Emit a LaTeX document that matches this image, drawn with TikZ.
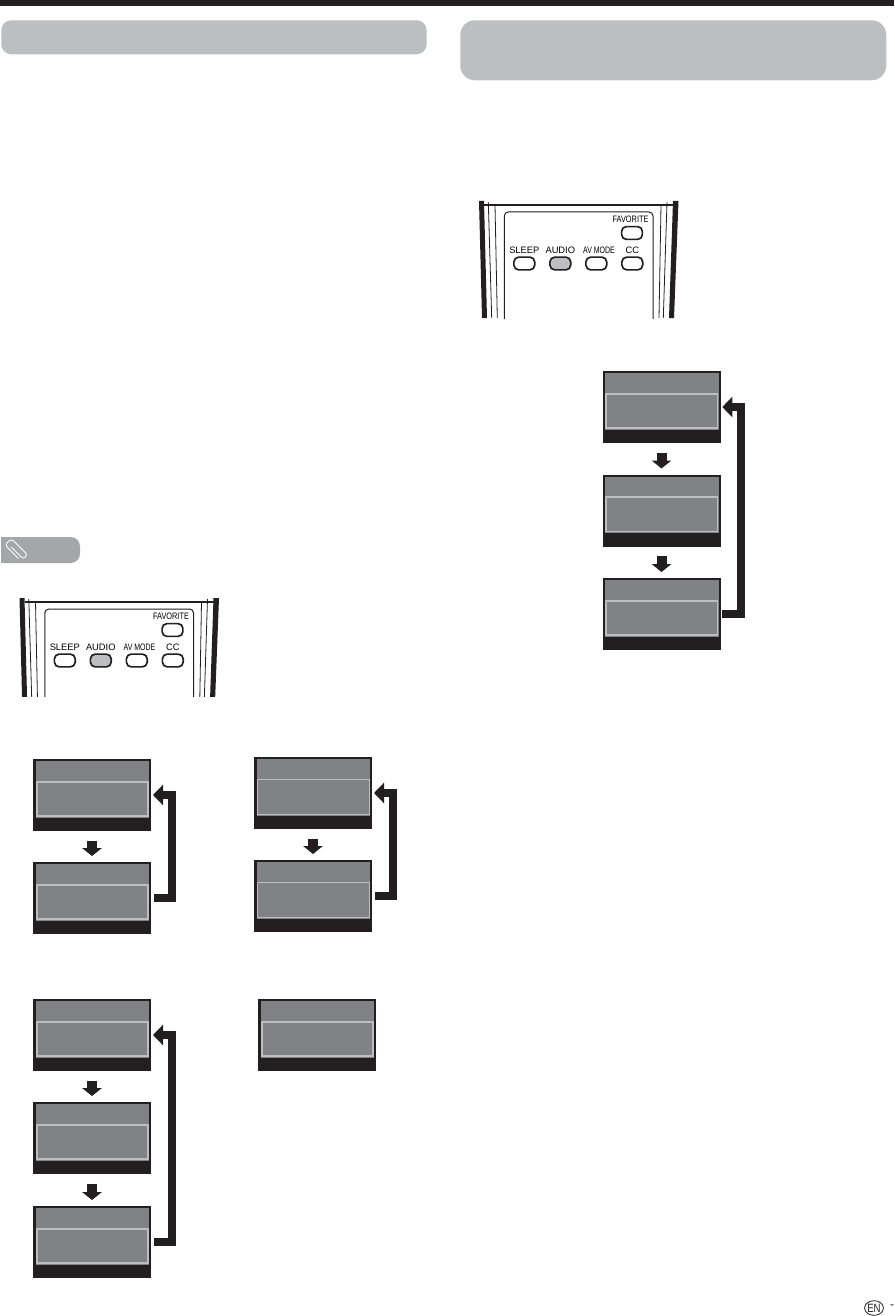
\documentclass[tikz,border=0pt]{standalone}
\usepackage{fontspec}
\setmainfont{Liberation Sans}
\usetikzlibrary{arrows.meta,calc,shapes.geometric}
\definecolor{ink}{HTML}{231F20}
\definecolor{screengray}{HTML}{808285}
\definecolor{lightgray}{HTML}{BCBEC0}
\definecolor{notegray}{HTML}{A4A6A8}
\tikzset{
  header/.style={fill=lightgray,inner sep=0pt,anchor=north west,rounded corners=#1},
  screenbox/.style={fill=ink,inner sep=0pt,outer sep=0pt,minimum width=88.5pt,minimum height=54pt,anchor=north west},
  hilite/.style={draw=lightgray,fill=screengray,line width=1.4pt},
  hilitethin/.style={draw=lightgray,fill=screengray,line width=.7pt},
  returnline/.style={draw=ink,line width=5.6pt,line join=miter,-{Triangle[length=7.5pt,width=15pt]}},
  downarrow/.style={draw=ink,line width=7.5pt,shorten <=7.2pt,shorten >=4.5pt,-{Triangle[length=6pt,width=14.5pt]}},
  btn/.style={draw=ink,line width=1.25pt,fill=white,rounded corners=3.6pt,minimum width=15.6pt,minimum height=9.6pt,inner sep=0pt},
  btnlabel/.style={font=\fontsize{7}{8}\selectfont,inner sep=0pt,text=black},
  sideheavy/.style={fill=ink},
  sidethin/.style={draw=ink,line width=.6pt}
}
% name, left, top, style of the highlight
\newcommand{\scrn}[4]{%
  \begin{scope}[shift={(#2,#3)}]
    \node[screenbox] (#1) at (0,0) {};
    \fill[screengray] (2.5,2) rectangle (116,58.5);
    \path[#4] (3.6,22.6) rectangle (115,57);
  \end{scope}}
% prefix, dx, dy, lower edge in the unshifted frame
\newcommand{\remotectl}[4]{%
  \begin{scope}[shift={(#2,#3)}]
    \begin{scope}
      \clip (470,190) rectangle (690,#4);
      \fill[sideheavy] (479,201) -- (484,201) -- (487,318) -- (482,318) -- cycle;
      \fill[sideheavy] (673,201) -- (678.5,201) -- (674,318) -- (669,318) -- cycle;
      \draw[sidethin] (488.3,202) -- (491.7,318);
      \draw[sidethin] (495,205) -- (497.3,318);
      \draw[sidethin] (667,202) -- (663.3,318);
      \draw[sidethin] (661,205) -- (659,318);
      \draw[ink,line width=1.2pt] (484,205) -- (673,205);
      \draw[ink,line width=.75pt,rounded corners=3pt] (504.3,330) -- (504.3,212) -- (653,212) -- (653,330);
    \end{scope}
    \node[btn] (#1fav) at (632,233) {};
    \node[btn] (#1sleep) at (524.3,263.5) {};
    \node[btn,fill=lightgray] (#1audio) at (560.3,263.5) {};
    \node[btn] (#1avmode) at (596.3,263.5) {};
    \node[btn] (#1cc) at (632.3,263.5) {};
    \node[btnlabel] (#1favl) at (630.5,219.3) {\scalebox{.79}[1]{FAVORITE}};
    \node[btnlabel] (#1sleepl) at (524.3,249.8) {SLEEP};
    \node[btnlabel] (#1audiol) at (560.3,249.8) {AUDIO};
    \node[btnlabel] (#1avl) at (599,249.8) {\scalebox{.75}[1]{AV MODE}};
    \node[btnlabel] (#1ccl) at (632.3,249.8) {CC};
  \end{scope}}
\begin{document}
\begin{tikzpicture}[x=.75pt,y=-.75pt]
\useasboundingbox (0,0) rectangle (894,1316);
\fill[white] (0,0) rectangle (894,1316);
\fill[ink] (0,0) rectangle (894,6);
% section headers
\node[header=7.5pt,minimum width=319pt,minimum height=25.5pt] (headL) at (1,20) {};
\node[header=11pt,minimum width=319.5pt,minimum height=45pt] (headR) at (460,20) {};
% note tab
\fill[notegray] (1,537) [rounded corners=7pt] -- (80,537) -- (80,563) [sharp corners] -- (1,563) -- cycle;
\begin{scope}[shift={(17,550)},rotate=-45]
  \draw[white,line width=.65pt,rounded corners=2.2pt] (-6,2) -- (11,2) -- (11,-4) -- (-12,-4) -- (-12,5) -- (7,5);
\end{scope}
% remotes
\remotectl{a}{0}{0}{318}
\remotectl{b}{-459.5}{397}{299}
% right column
\scrn{r1}{602.5}{371}{hilite}
\scrn{r2}{602.5}{474.5}{hilite}
\scrn{r3}{602.5}{578}{hilite}
\draw[downarrow] (r1.south) -- (r2.north);
\draw[downarrow] (r2.south) -- (r3.north);
\draw[returnline] ($(r3.east)+(1.8,0)$) -- ++(18.5,0) |- ($(r1.east)+(1.8,0)$);
% left column, first pair
\scrn{p1}{33}{759}{hilite}
\scrn{p2}{33}{862}{hilite}
\draw[downarrow] (p1.south) -- (p2.north);
\draw[returnline] ($(p2.east)+(2.5,0)$) -- ++(18.5,0) |- ($(p1.east)+(2,0)$);
% second pair
\scrn{q1}{254}{757}{hilitethin}
\scrn{q2}{254}{860}{hilitethin}
\draw[downarrow] (q1.south) -- (q2.north);
\draw[returnline] ($(q2.east)+(2.5,0)$) -- ++(18.5,0) |- ($(q1.east)+(2,0)$);
% triple
\scrn{t1}{33}{999}{hilite}
\scrn{t2}{33}{1102}{hilite}
\scrn{t3}{33}{1206}{hilite}
\draw[downarrow] (t1.south) -- (t2.north);
\draw[downarrow] (t2.south) -- (t3.north);
\draw[returnline] ($(t3.east)+(2.5,0)$) -- ++(18.5,0) |- ($(t1.east)+(2,0)$);
% single
\scrn{u1}{258}{999}{hilite}
% page mark
\node[draw=ink,line width=.6pt,ellipse,inner sep=0pt,minimum width=13.5pt,minimum height=11pt,font=\fontsize{9}{10}\selectfont,text=ink] (en) at (874,1308) {\scalebox{.8}[1]{EN}};
\node[font=\fontsize{9}{10}\selectfont,text=ink,inner sep=0pt] (dash) at (892,1307) {-};
\end{tikzpicture}
\end{document}
